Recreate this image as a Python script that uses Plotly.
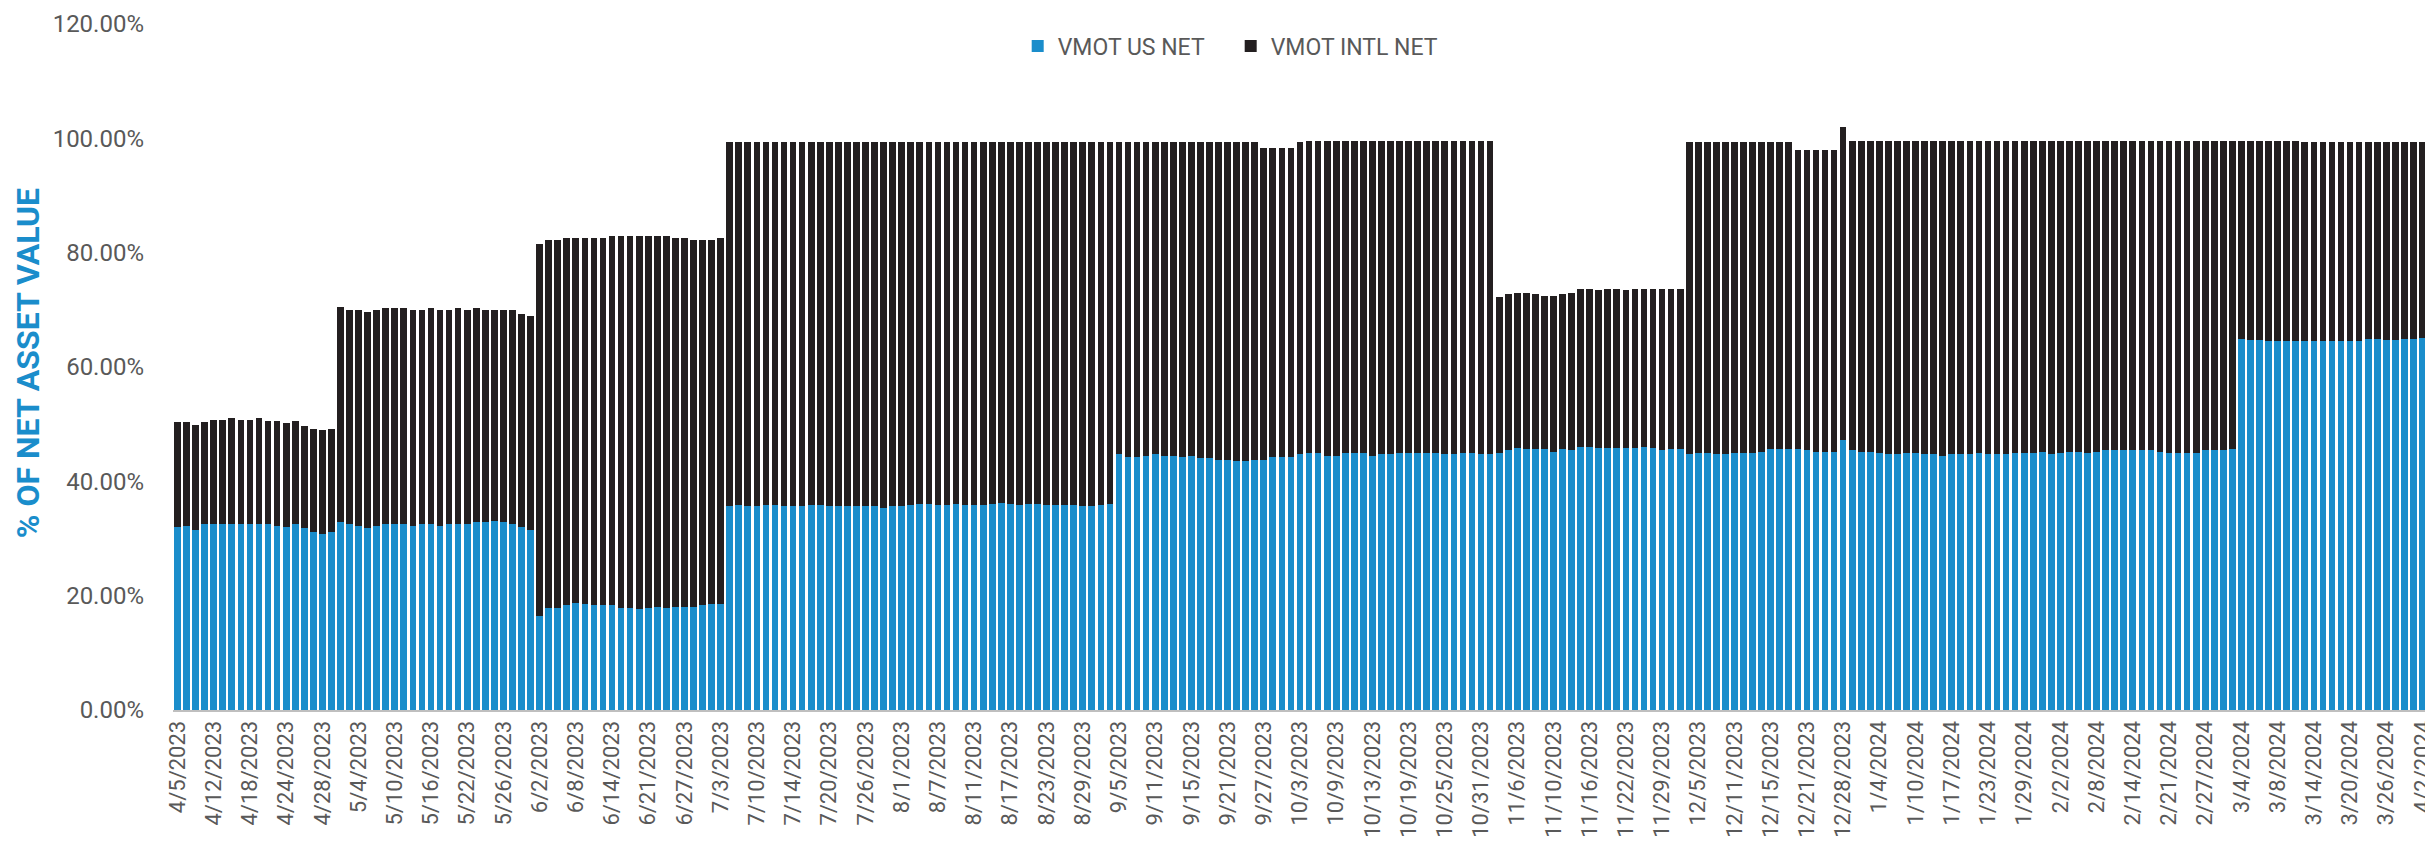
import pandas as pd
import plotly.graph_objects as go

# ---- categories: NYSE trading days 4/5/2023 .. 4/2/2024 ----
start_date = "2023-04-05"
end_date = "2024-04-02"
market_holidays = ["2023-04-07", "2023-05-29", "2023-06-19", "2023-07-04", "2023-09-04",
                   "2023-11-23", "2023-12-25", "2024-01-01", "2024-01-15", "2024-02-19",
                   "2024-03-29"]
days = pd.bdate_range(start_date, end_date, freq="C", holidays=market_holidays)
dates = [f"{d.month}/{d.day}/{d.year}" for d in days]
tick_labels = dates[::4]

# ---- series values (% of net asset value) ----
us_net = [
    32.0, 32.2, 31.5, 32.5, 32.6, 32.6, 32.5, 32.6, 32.5, 32.6, 32.5, 32.2, 32.0, 32.5, 31.8, 31.1, 30.8, 31.1,
    32.9, 32.5, 32.2, 31.8, 32.2, 32.5, 32.5, 32.5, 32.2, 32.5, 32.6, 32.2, 32.5, 32.6, 32.6, 32.9, 32.9, 33.1,
    32.9, 32.5, 32.0, 31.5,
    16.5, 17.8, 17.8, 18.3, 18.7, 18.5, 18.3, 18.3, 18.3, 17.8, 17.8, 17.6, 17.8, 18.1, 17.8, 18.1, 18.1, 18.1,
    18.3, 18.5, 18.5,
    35.6, 35.8, 35.6, 35.6, 35.8, 35.8, 35.6, 35.6, 35.6, 35.8, 35.8, 35.6, 35.6, 35.6, 35.6, 35.6, 35.6, 35.4,
    35.6, 35.6, 35.8, 36.0,
    36.0, 35.8, 35.8, 36.0, 35.8, 35.8, 35.8, 36.0, 36.2, 36.0, 35.8, 36.0, 36.0, 35.8, 35.8, 35.8, 35.8, 35.6,
    35.6, 35.8, 36.0,
    44.7, 44.3, 44.3, 44.5, 44.7, 44.5, 44.5, 44.3, 44.5, 44.1, 44.1, 43.8, 43.8, 43.6, 43.6, 43.8,
    43.8, 44.3, 44.3, 44.3,
    44.7,
    44.9, 44.9, 44.5, 44.5, 44.9, 44.9, 44.9, 44.5, 44.7, 44.7, 44.9, 44.9, 44.9, 44.9, 44.9, 44.7, 44.7, 44.9,
    44.9, 44.7, 44.7,
    44.9, 45.4, 45.9, 45.6, 45.6, 45.6, 45.2, 45.6, 45.4, 46.0, 46.0, 45.9, 45.9, 45.9, 45.9, 45.9, 46.0, 45.9,
    45.4, 45.6, 45.6,
    44.7, 44.9, 44.9, 44.7, 44.7, 44.9, 44.9, 44.9, 45.2, 45.6, 45.6, 45.6,
    45.6, 45.4, 45.2, 45.2, 45.2,
    47.2,
    45.4, 45.2, 45.2, 44.9, 44.7, 44.7, 44.9, 44.9, 44.7, 44.7, 44.5, 44.7, 44.7, 44.7, 44.9, 44.7, 44.7, 44.7,
    44.9, 44.9, 44.9, 45.2, 44.7,
    44.9, 45.2, 45.2, 44.9, 45.2, 45.4, 45.4, 45.4, 45.4, 45.4, 45.4, 45.2, 44.9, 44.9, 44.9, 44.9, 45.4, 45.4,
    45.4, 45.6,
    64.9, 64.7, 64.7, 64.5, 64.6, 64.5, 64.6,
    64.6, 64.6, 64.6, 64.5, 64.5, 64.5, 64.6, 64.9, 64.9, 64.7, 64.7, 64.9, 64.9, 65.1,
]

intl_net = [
    18.3, 18.1, 18.4, 17.8, 18.2, 18.2, 18.5, 18.2, 18.3, 18.4, 18.1, 18.4, 18.2, 18.1, 17.9, 18.1, 18.2, 18.1,
    37.6, 37.5, 37.7, 37.8, 37.8, 37.8, 37.8, 37.8, 37.7, 37.5, 37.7, 37.7, 37.5, 37.7, 37.4, 37.4, 37.1, 36.9,
    37.0, 37.4, 37.3, 37.4,
    65.0, 64.5, 64.5, 64.3, 63.9, 64.1, 64.3, 64.3, 64.6, 65.1, 65.2, 65.4, 65.1, 64.9, 65.1, 64.5, 64.5, 64.2,
    64.0, 63.8, 64.1,
    63.7, 63.5, 63.7, 63.7, 63.5, 63.5, 63.7, 63.7, 63.7, 63.5, 63.5, 63.7, 63.7, 63.7, 63.7, 63.7, 63.7, 63.9,
    63.7, 63.7, 63.5, 63.3,
    63.3, 63.5, 63.5, 63.3, 63.5, 63.5, 63.5, 63.3, 63.1, 63.3, 63.5, 63.3, 63.3, 63.5, 63.5, 63.5, 63.5, 63.7,
    63.7, 63.5, 63.3,
    54.7, 55.1, 55.1, 54.9, 54.7, 54.9, 54.9, 55.1, 54.9, 55.3, 55.3, 55.6, 55.6, 55.8, 55.8, 55.6,
    54.5, 54.0, 54.0, 54.0,
    54.6,
    54.7, 54.7, 55.1, 55.1, 54.7, 54.7, 54.7, 55.1, 54.9, 54.9, 54.7, 54.7, 54.7, 54.7, 54.7, 54.9, 54.9, 54.7,
    54.7, 54.9, 54.9,
    27.4, 27.3, 27.1, 27.4, 27.1, 26.9, 27.3, 27.1, 27.6, 27.6, 27.6, 27.5, 27.7, 27.7, 27.5, 27.7, 27.6, 27.7,
    28.2, 28.0, 28.0,
    54.6, 54.4, 54.4, 54.6, 54.6, 54.4, 54.4, 54.4, 54.1, 53.7, 53.7, 53.7,
    52.4, 52.6, 52.8, 52.8, 52.8,
    54.8,
    54.2, 54.4, 54.4, 54.7, 54.9, 54.9, 54.7, 54.7, 54.9, 54.9, 55.1, 54.9, 54.9, 54.9, 54.7, 54.9, 54.9, 54.9,
    54.7, 54.7, 54.7, 54.4, 54.9,
    54.7, 54.4, 54.4, 54.7, 54.4, 54.2, 54.2, 54.2, 54.2, 54.2, 54.2, 54.4, 54.7, 54.7, 54.7, 54.7, 54.2, 54.2,
    54.2, 54.0,
    34.7, 34.9, 34.9, 35.1, 35.0, 35.1, 35.0,
    34.8, 34.8, 34.8, 34.9, 34.9, 34.9, 34.8, 34.5, 34.5, 34.7, 34.7, 34.5, 34.5, 34.3,
]

series_names = ["VMOT US NET", "VMOT INTL NET"]
y_ticks = [0, 20, 40, 60, 80, 100, 120]
y_tick_text = ["0.00%", "20.00%", "40.00%", "60.00%", "80.00%", "100.00%", "120.00%"]
y_title = "% OF NET ASSET VALUE"

BLUE = "#1A8DCB"
BLACK = "#231F20"
GREY = "#595959"
FONT = "Roboto, Arial, sans-serif"

fig = go.Figure()
fig.add_trace(go.Bar(x=dates, y=us_net, name=series_names[0],
                     marker=dict(color=BLUE, line=dict(width=0))))
fig.add_trace(go.Bar(x=dates, y=intl_net, name=series_names[1],
                     marker=dict(color=BLACK, line=dict(width=0))))

fig.update_layout(
    width=2433, height=848,
    barmode="stack", bargap=0.26,
    paper_bgcolor="white", plot_bgcolor="white",
    font=dict(family=FONT, color=GREY, size=22),
    margin=dict(l=165, r=14, t=16, b=146, autoexpand=False),
    showlegend=True,
    legend=dict(orientation="h", xref="container", yref="container",
                x=0.415, y=0.955, xanchor="left", yanchor="middle",
                font=dict(family=FONT, size=23, color=GREY),
                bgcolor="rgba(0,0,0,0)", itemwidth=30, traceorder="normal",
                entrywidth=168, entrywidthmode="pixels"),
    xaxis=dict(type="category", tickmode="array", tickvals=tick_labels, ticktext=tick_labels,
               tickangle=-90, tickfont=dict(family=FONT, size=22, color=GREY),
               showline=True, linecolor="#BFBFBF", linewidth=2, showgrid=False,
               ticks="", range=[-0.5, len(dates) - 0.5], automargin=False),
    yaxis=dict(range=[0, 120], tickmode="array", tickvals=y_ticks, ticktext=y_tick_text,
               showgrid=False, zeroline=False, automargin=False,
               showline=False, ticks="", ticklabelstandoff=28,
               tickfont=dict(family=FONT, size=24, color=GREY)),
    annotations=[dict(text=f"<b>{y_title}</b>", xref="paper", yref="paper",
                      x=-0.0645, y=0.505, xanchor="center", yanchor="middle",
                      textangle=-90, showarrow=False,
                      font=dict(family=FONT, size=32, color=BLUE))],
)

fig.write_html("out.html")
